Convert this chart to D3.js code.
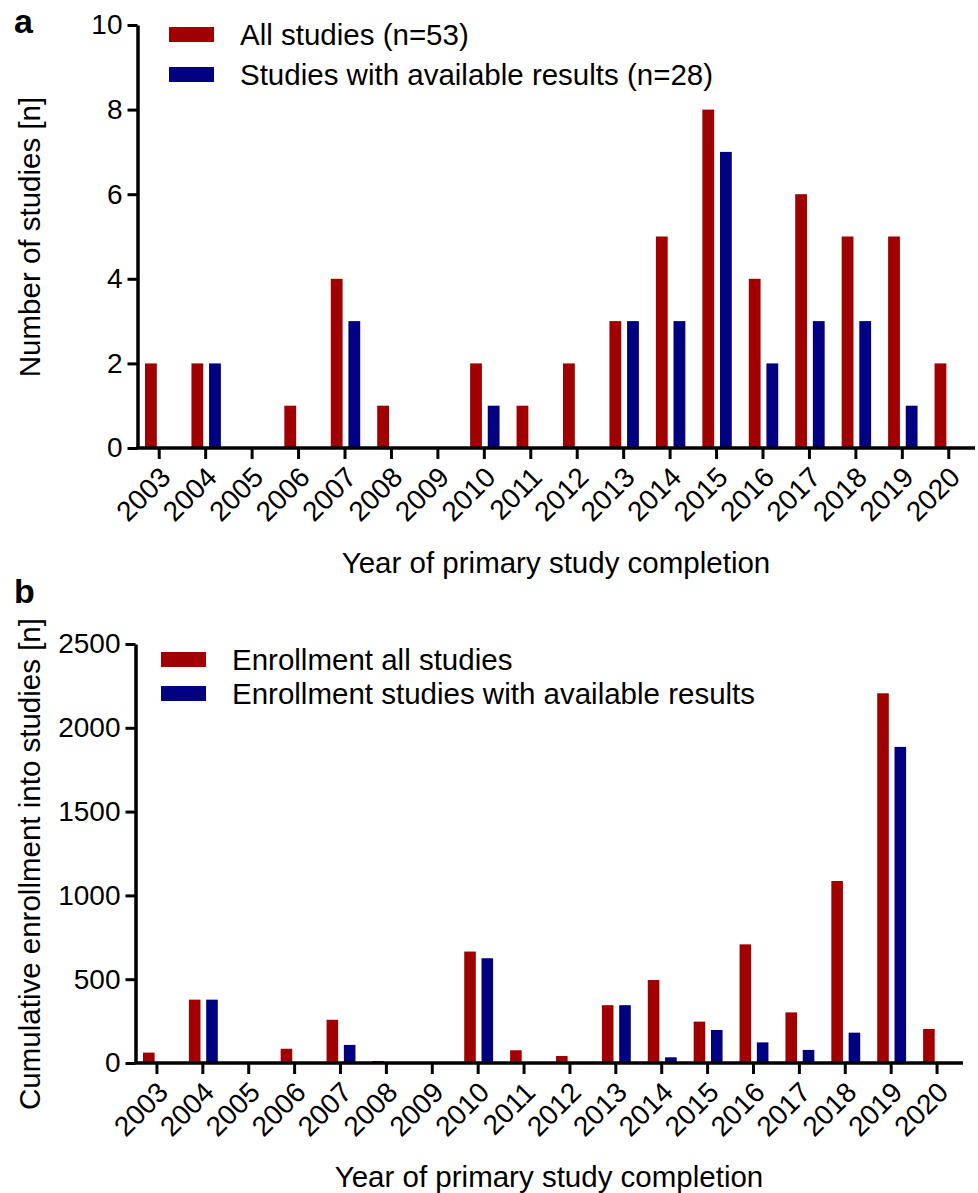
<!DOCTYPE html>
<html>
<head>
<meta charset="utf-8">
<script src="https://cdn.jsdelivr.net/npm/d3@7"></script>
<style>
  body { margin: 0; background: #fff; }
  svg { font-family: "Liberation Sans", Arial, Helvetica, sans-serif; }
  .domain, .tick line { stroke: #000; }
</style>
</head>
<body>
<div id="chart"></div>
<script>
const years = ['2003', '2004', '2005', '2006', '2007', '2008', '2009', '2010', '2011',
  '2012', '2013', '2014', '2015', '2016', '2017', '2018', '2019', '2020'];

// panel a: number of studies per completion year
const studiesAll = [2, 2, 0, 1, 4, 1, 0, 2, 1, 2, 3, 5, 8, 4, 6, 5, 5, 2];
const studiesAvailable = [0, 2, 0, 0, 3, 0, 0, 1, 0, 0, 3, 3, 7, 2, 3, 3, 1, 0];
const studyTicks = [0, 2, 4, 6, 8, 10];
const studyLegend = ['All studies (n=53)', 'Studies with available results (n=28)'];

// panel b: cumulative enrollment per completion year
const enrollAll = [62, 378, 0, 85, 258, 12, 0, 665, 76, 42, 345, 495, 247, 708, 302, 1086, 2206, 203];
const enrollAvailable = [0, 378, 0, 0, 108, 0, 0, 625, 0, 0, 345, 34, 197, 123, 78, 181, 1886, 0];
const enrollTicks = [0, 500, 1000, 1500, 2000, 2500];
const enrollLegend = ['Enrollment all studies', 'Enrollment studies with available results'];

const colors = ['#a00000', '#000080'];

const svg = d3.select('#chart')
  .append('svg')
  .attr('width', 978)
  .attr('height', 1193);

function drawPanel(opt) {
  const g = svg.append('g');

  const x0 = d3.scaleBand()
    .domain(years)
    .range(opt.xRange);

  const x1 = d3.scaleBand()
    .domain([0, 1])
    .range([9, x0.bandwidth() - 8])
    .paddingInner(0.33);

  const y = d3.scaleLinear()
    .domain([0, opt.yMax])
    .range(opt.yRange);

  const series = [opt.all, opt.available];

  // bars
  g.selectAll('.year')
    .data(years)
    .enter()
    .append('g')
    .attr('transform', (d) => `translate(${x0(d)},0)`)
    .selectAll('rect')
    .data((d, i) => series.map((s, k) => ({ k, v: s[i] })))
    .enter()
    .append('rect')
    .attr('x', (d) => x1(d.k))
    .attr('width', x1.bandwidth())
    .attr('y', (d) => y(d.v))
    .attr('height', (d) => y(0) - y(d.v))
    .attr('fill', (d) => colors[d.k]);

  // y axis
  const yAxis = g.append('g')
    .attr('transform', `translate(${opt.xRange[0] + 1.5},0)`)
    .call(d3.axisLeft(y)
      .tickValues(opt.ticks)
      .tickFormat(d3.format('d'))
      .tickSize(10)
      .tickSizeOuter(0)
      .tickPadding(5))
    .attr('font-family', null)
    .attr('font-size', 28);
  yAxis.select('.domain').attr('stroke-width', 3.5);
  yAxis.selectAll('.tick line').attr('stroke-width', 3);
  yAxis.selectAll('.tick text').attr('fill', '#000');

  // x axis
  const xAxis = g.append('g')
    .attr('transform', `translate(0,${opt.yRange[0]})`)
    .call(d3.axisBottom(x0).tickSize(11).tickSizeOuter(0))
    .attr('font-family', null)
    .attr('font-size', 28);
  xAxis.select('.domain')
    .attr('stroke-width', 3.5)
    .attr('d', `M${opt.xRange[0]},0H${opt.xRange[1] + 3}`);
  xAxis.selectAll('.tick line').attr('stroke-width', 3);
  xAxis.selectAll('.tick text')
    .attr('fill', '#000')
    .attr('y', 0)
    .attr('dy', '0.35em')
    .attr('text-anchor', 'end')
    .attr('transform', 'translate(6,24) rotate(-45)');

  // axis titles
  g.append('text')
    .attr('x', (opt.xRange[0] + opt.xRange[1]) / 2 + 2)
    .attr('y', opt.xTitleY)
    .attr('text-anchor', 'middle')
    .attr('font-size', 29.5)
    .text('Year of primary study completion');

  g.append('text')
    .attr('transform', `translate(${opt.yTitleX},${opt.yTitleY}) rotate(-90)`)
    .attr('text-anchor', 'middle')
    .attr('font-size', 29.5)
    .text(opt.yTitle);

  // panel letter
  g.append('text')
    .attr('x', 14)
    .attr('y', opt.letterY)
    .attr('font-size', 34)
    .attr('font-weight', 'bold')
    .text(opt.letter);

  // legend
  const legend = g.selectAll('.legend')
    .data(opt.legend)
    .enter()
    .append('g')
    .attr('transform', (d, i) => `translate(${opt.legendX},${opt.legendY + i * opt.legendStep})`);
  legend.append('rect')
    .attr('width', 45)
    .attr('height', 15)
    .attr('fill', (d, i) => colors[i]);
  legend.append('text')
    .attr('x', 71)
    .attr('y', 18)
    .attr('font-size', 29.5)
    .text((d) => d);
}

drawPanel({
  letter: 'a',
  letterY: 33,
  all: studiesAll,
  available: studiesAvailable,
  yMax: 10,
  ticks: studyTicks,
  xRange: [136, 972],
  yRange: [448, 25],
  xTitleY: 573,
  yTitle: 'Number of studies [n]',
  yTitleX: 40,
  yTitleY: 237,
  legend: studyLegend,
  legendX: 169,
  legendY: 27,
  legendStep: 40,
});

drawPanel({
  letter: 'b',
  letterY: 603,
  all: enrollAll,
  available: enrollAvailable,
  yMax: 2500,
  ticks: enrollTicks,
  xRange: [134, 960],
  yRange: [1063, 644],
  xTitleY: 1187,
  yTitle: 'Cumulative enrollment into studies [n]',
  yTitleX: 40,
  yTitleY: 864,
  legend: enrollLegend,
  legendX: 161,
  legendY: 652,
  legendStep: 34,
});
</script>
</body>
</html>
